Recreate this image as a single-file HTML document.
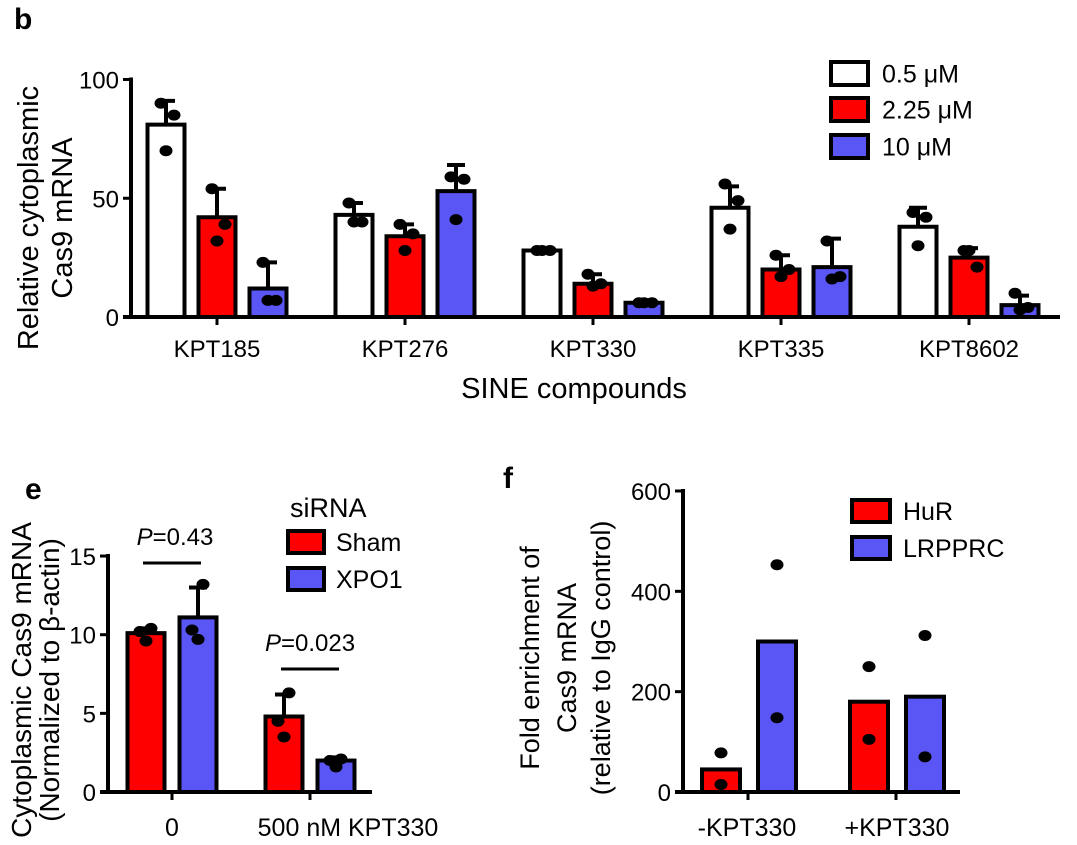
<!DOCTYPE html>
<html><head><meta charset="utf-8"><style>
html,body{margin:0;padding:0;background:#fff;}
svg{display:block;font-family:"Liberation Sans",Arial,sans-serif;}
</style></head><body>
<svg id="fig" width="1077" height="845" viewBox="0 0 1077 845" xmlns="http://www.w3.org/2000/svg">
<text x="14" y="29" font-size="30" font-weight="bold">b</text>
<text x="25" y="499" font-size="30" font-weight="bold">e</text>
<text x="503" y="488" font-size="30" font-weight="bold">f</text>
<g id="gb"></g>
<g id="ge"></g>
<g id="gf"></g>
</svg>
<script>
// ---- Panel b data ----
const bCategories = ["KPT185","KPT276","KPT330","KPT335","KPT8602"];
const bSeries = ["0.5 μM","2.25 μM","10 μM"];
const bLow = [81,43,28,46,38];
const bMid = [42,34,14,20,25];
const bHigh = [12,53,6,21,5];
const bLowErr = [91,48,29,55,46];
const bMidErr = [54,39,18,26,29];
const bHighErr = [23,64,7,33,9];
const bLowDots = [[90,85,70],[48,40,40],[28,28,28],[56,49,37],[44,42,30]];
const bMidDots = [[54,39,32],[39,35,28],[18,14,13],[26,20,17],[28,21,28]];
const bHighDots = [[23,7,7],[59,58,41],[6,6,6],[32,17,16],[10,4,3]];
const bTicks = [0,50,100];
// ---- Panel e data ----
const eCategories = ["0","500 nM KPT330"];
const eSeries = ["Sham","XPO1"];
const eSham = [10.1,4.8];
const eXpo1 = [11.1,2.0];
const eShamErr = [10.4,6.2];
const eXpo1Err = [13.0,2.2];
const eShamDots = [[10.4,10.2,9.6],[6.3,4.5,3.5]];
const eXpo1Dots = [[13.2,10.3,9.7],[2.1,2.0,1.6]];
const ePvals = ["=0.43","=0.023"];
const eTicks = [0,5,10,15];
// ---- Panel f data ----
const fCategories = ["-KPT330","+KPT330"];
const fSeries = ["HuR","LRPPRC"];
const fHuR = [45,180];
const fLRPPRC = [300,190];
const fHuRDots = [[78,15],[250,105]];
const fLRPPRCDots = [[453,148],[312,70]];
const fTicks = [0,200,400,600];

const NS="http://www.w3.org/2000/svg";
function mk(parent,tag,attrs,text){const e=document.createElementNS(NS,tag);for(const k in attrs)e.setAttribute(k,attrs[k]);if(text!==undefined)e.textContent=text;parent.appendChild(e);return e;}
const RED="#ff0000", BLUE="#5a55f5";

function axes(g,x0,yTop,y0,xEnd,ticks,yScale,tickCenters,fs){
  const ya=mk(g,'line',{x1:x0,y1:yTop-2,x2:x0,y2:y0+2,stroke:'#000','stroke-width':4});
  
  
  const xa=mk(g,'line',{x1:x0-8,y1:y0,x2:xEnd,y2:y0,stroke:'#000','stroke-width':4});
  
  
  ticks.forEach(t=>{
    const y=yScale(t);
    mk(g,'line',{x1:x0-8,y1:y,x2:x0,y2:y,stroke:'#000','stroke-width':3});
    const tl=mk(g,'text',{x:x0-12,y:y+9,'font-size':fs,'text-anchor':'end'},String(t));
    
    
  });
  tickCenters.forEach(c=>mk(g,'line',{x1:c,y1:y0,x2:c,y2:y0+8,stroke:'#000','stroke-width':3}));
}
function bar(g,cx,w,v,fill,yScale,y0,name){
  const y=yScale(v);
  const r=mk(g,'rect',{x:cx-w/2,y:y,width:w,height:y0-y,fill:fill,stroke:'#000','stroke-width':4});
  
  
}
function err(g,cx,v,top,yScale){
  mk(g,'line',{x1:cx,y1:yScale(v),x2:cx,y2:yScale(top),stroke:'#000','stroke-width':4});
  mk(g,'line',{x1:cx-9,y1:yScale(top),x2:cx+9,y2:yScale(top),stroke:'#000','stroke-width':4});
}
function dots(g,cx,vals,yScale,offs){
  vals.forEach((v,i)=>{const d=mk(g,'ellipse',{cx:cx+(offs?offs[i%offs.length]:0),cy:yScale(v),rx:6.5,ry:5.5,fill:'#000'});
    
    });
}
function legendBox(g,x,y,w,h,fill,label,tx,fs,name){
  const r=mk(g,'rect',{x:x,y:y,width:w,height:h,fill:fill,stroke:'#000','stroke-width':4});
  
  
  const t=mk(g,'text',{x:tx,y:y+h/2+9,'font-size':fs},label);
  
  
}

// ---- Panel b ----
(function(){
  const g=document.getElementById('gb');
  const y0=317, pxu=2.375;
  const ys=v=>y0-v*pxu;
  const xs=i=>217+i*188;
  const centers=bCategories.map((c,i)=>xs(i));
  axes(g,131,ys(100),y0,1060,bTicks,ys,centers,24);
  const fills=["#ffffff",RED,BLUE];
  const vals=[bLow,bMid,bHigh], errs=[bLowErr,bMidErr,bHighErr], ds=[bLowDots,bMidDots,bHighDots];
  bCategories.forEach((c,i)=>{
    for(let s=0;s<3;s++){
      const cx=xs(i)+(s-1)*51;
      err(g,cx,vals[s][i],errs[s][i],ys);
      bar(g,cx,37,vals[s][i],fills[s],ys,y0,'bar-'+c.toLowerCase()+'-s'+s);
      dots(g,cx,ds[s][i],ys,[-5,8,0]);
    }
    const t=mk(g,'text',{x:xs(i),y:357,'font-size':24,'text-anchor':'middle'},c);
    
    
  });
  const xt=mk(g,'text',{x:574,y:398,'font-size':29,'text-anchor':'middle'},'SINE compounds');
  
  
  const yt=mk(g,'text',{transform:'translate(38,218) rotate(-90)','font-size':29,'text-anchor':'middle'});
  
  
  mk(yt,'tspan',{x:0,y:0},'Relative cytoplasmic');
  mk(yt,'tspan',{x:0,y:34},'Cas9 mRNA');
  const tops=[62,98,135];
  bSeries.forEach((s,i)=>legendBox(g,831,tops[i],37,23,fills[i],s,882,25,'legend-entry-'+i));
})();

// ---- Panel e ----
(function(){
  const g=document.getElementById('ge');
  const y0=792, pxu=15.73;
  const ys=v=>y0-v*pxu;
  const xs=i=>172+i*138;
  axes(g,108,ys(15),y0,372,eTicks,ys,eCategories.map((c,i)=>xs(i)),24);
  const fills=[RED,BLUE], vals=[eSham,eXpo1], errs=[eShamErr,eXpo1Err], ds=[eShamDots,eXpo1Dots];
  eCategories.forEach((c,i)=>{
    for(let s=0;s<2;s++){
      const cx=xs(i)+(s===0?-26:26);
      err(g,cx,vals[s][i],errs[s][i],ys);
      bar(g,cx,37,vals[s][i],fills[s],ys,y0,'bar-e-'+i+'-s'+s);
      dots(g,cx,ds[s][i],ys,[5,-6,0]);
    }
    const ly=i===0?563:669;
    mk(g,'line',{x1:xs(i)-29,y1:ly,x2:xs(i)+29,y2:ly,stroke:'#000','stroke-width':3});
    const pt=mk(g,'text',{x:xs(i)+(i===0?3:0),y:ly-18,'font-size':24,'text-anchor':'middle'});
    
    
    mk(pt,'tspan',{'font-style':'italic'},'P');
    mk(pt,'tspan',{},ePvals[i]);
    const t=mk(g,'text',{x:i===0?172:348,y:836,'font-size':25,'text-anchor':'middle'},c);
    
    
  });
  const yt=mk(g,'text',{transform:'translate(31,680) rotate(-90)','font-size':28,'text-anchor':'middle'});
  
  
  mk(yt,'tspan',{x:0,y:0},'Cytoplasmic Cas9 mRNA');
  mk(yt,'tspan',{x:0,y:28},'(Normalized to β-actin)');
  const st=mk(g,'text',{x:290,y:517,'font-size':27},'siRNA');
  
  
  const tops=[531,568];
  eSeries.forEach((s,i)=>legendBox(g,288,tops[i],36,22,fills[i],s,336,25,'legend-entry-e-'+i));
})();

// ---- Panel f ----
(function(){
  const g=document.getElementById('gf');
  const y0=792, pxu=301/600;
  const ys=v=>y0-v*pxu;
  const xs=i=>748+i*148;
  axes(g,683,ys(600),y0,960,fTicks,ys,fCategories.map((c,i)=>xs(i)),24);
  const fills=[RED,BLUE], vals=[fHuR,fLRPPRC], ds=[fHuRDots,fLRPPRCDots];
  fCategories.forEach((c,i)=>{
    for(let s=0;s<2;s++){
      const cx=xs(i)+(s===0?-27:29);
      bar(g,cx,38,vals[s][i],fills[s],ys,y0,'bar-f-'+i+'-s'+s);
      dots(g,cx,ds[s][i],ys,null);
    }
    const t=mk(g,'text',{x:xs(i)+(i===0?-1:1),y:836,'font-size':25,'text-anchor':'middle'},c);
    
    
  });
  const yt=mk(g,'text',{transform:'translate(566,658) rotate(-90)','font-size':27,'text-anchor':'middle'});
  
  
  mk(yt,'tspan',{x:0,y:-27},'Fold enrichment of');
  mk(yt,'tspan',{x:0,y:10},'Cas9 mRNA');
  mk(yt,'tspan',{x:0,y:44},'(relative to IgG control)');
  const tops=[500,537];
  fSeries.forEach((s,i)=>legendBox(g,852,tops[i],38,22,fills[i],s,903,25,'legend-entry-f-'+i));
})();
</script>
</body></html>
